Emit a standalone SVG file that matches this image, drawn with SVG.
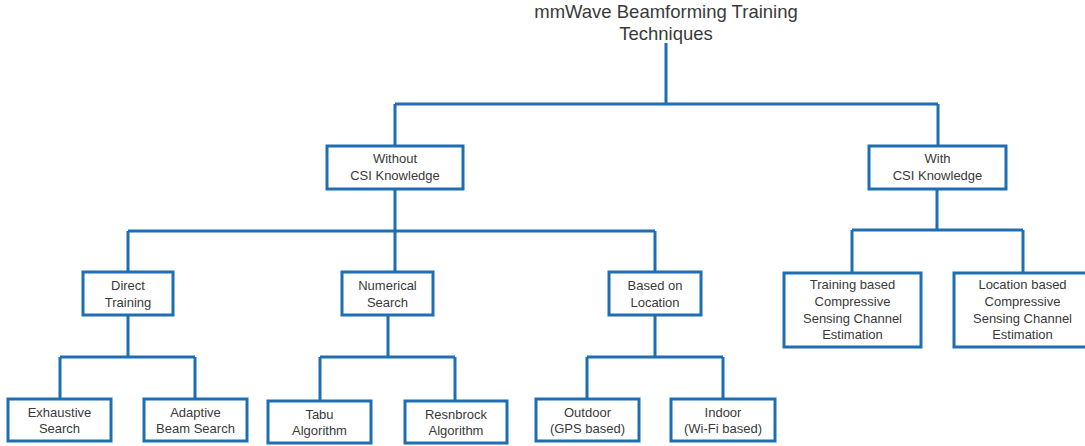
<svg xmlns="http://www.w3.org/2000/svg" width="1085" height="446" viewBox="0 0 1085 446">
<style>
.box{fill:#fff;stroke:#1F6EB4;stroke-width:3}
.ln{fill:none;stroke:#1F6EB4;stroke-width:3}
text{font-family:"Liberation Sans",Arial,sans-serif;fill:#3a3a3a;text-anchor:middle}
.t{font-size:13px}
.title{font-size:18.5px}
</style>
<rect width="1085" height="446" fill="#fff"/>
<g id="connectors">
<path class="ln" d="M666 43V104M395 104H938M395 104V146M938 104V146"/>
<path class="ln" d="M395 189V272M128 231H655M128 231V272M655 231V272"/>
<path class="ln" d="M937 189V230M852 230H1023M852 230V273M1023 230V273"/>
<path class="ln" d="M128 315V357M60 357H195M60 357V399M195 357V399"/>
<path class="ln" d="M388 315V357M320 357H455M320 357V401M455 357V401"/>
<path class="ln" d="M655 315V357M587 357H723M587 357V399M723 357V399"/>
</g>
<g id="root"><text class="title" x="666" y="18">mmWave Beamforming Training</text><text class="title" x="666" y="40">Techniques</text></g>
<g id="without"><rect class="box" x="327" y="146" width="136" height="43"/><text class="t" x="395" y="163">Without</text><text class="t" x="395" y="180">CSI Knowledge</text></g>
<g id="with"><rect class="box" x="869" y="146" width="137" height="43"/><text class="t" x="937.5" y="163">With</text><text class="t" x="937.5" y="180">CSI Knowledge</text></g>
<g id="direct"><rect class="box" x="83" y="272" width="90" height="43"/><text class="t" x="128" y="290">Direct</text><text class="t" x="128" y="307">Training</text></g>
<g id="numerical"><rect class="box" x="342" y="272" width="91" height="43"/><text class="t" x="387.5" y="290">Numerical</text><text class="t" x="387.5" y="307">Search</text></g>
<g id="location"><rect class="box" x="609" y="272" width="92" height="43"/><text class="t" x="655" y="290">Based on</text><text class="t" x="655" y="307">Location</text></g>
<g id="training-cs"><rect class="box" x="784" y="273" width="137" height="74"/><text class="t" x="852.5" y="289">Training based</text><text class="t" x="852.5" y="306">Compressive</text><text class="t" x="852.5" y="323">Sensing Channel</text><text class="t" x="852.5" y="339">Estimation</text></g>
<g id="location-cs"><rect class="box" x="954" y="273" width="137" height="74"/><text class="t" x="1022.5" y="289">Location based</text><text class="t" x="1022.5" y="306">Compressive</text><text class="t" x="1022.5" y="323">Sensing Channel</text><text class="t" x="1022.5" y="339">Estimation</text></g>
<g id="exhaustive"><rect class="box" x="8" y="399" width="103" height="42"/><text class="t" x="59.5" y="417">Exhaustive</text><text class="t" x="59.5" y="433">Search</text></g>
<g id="adaptive"><rect class="box" x="144" y="399" width="103" height="42"/><text class="t" x="195.5" y="417">Adaptive</text><text class="t" x="195.5" y="433">Beam Search</text></g>
<g id="tabu"><rect class="box" x="268" y="401" width="103" height="42"/><text class="t" x="319.5" y="419">Tabu</text><text class="t" x="319.5" y="435">Algorithm</text></g>
<g id="resnbrock"><rect class="box" x="405" y="401" width="102" height="42"/><text class="t" x="456" y="419">Resnbrock</text><text class="t" x="456" y="435">Algorithm</text></g>
<g id="outdoor"><rect class="box" x="536" y="399" width="103" height="42"/><text class="t" x="587.5" y="417">Outdoor</text><text class="t" x="587.5" y="433">(GPS based)</text></g>
<g id="indoor"><rect class="box" x="671" y="399" width="104" height="42"/><text class="t" x="723" y="417">Indoor</text><text class="t" x="723" y="433">(Wi-Fi based)</text></g>
</svg>
